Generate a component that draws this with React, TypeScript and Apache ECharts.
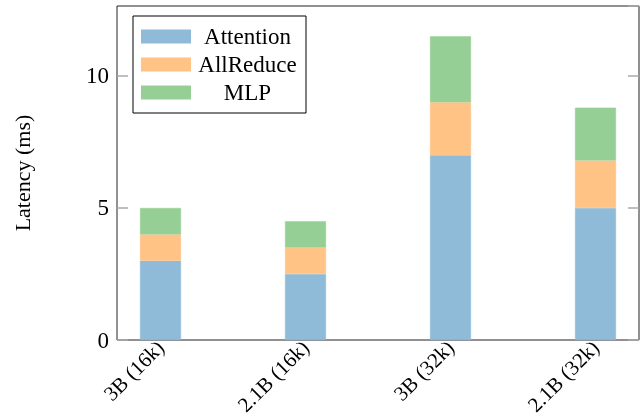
import React, { useEffect, useRef } from "react";
import * as echarts from "echarts";

const categories = ["3B (16k)", "2.1B (16k)", "3B (32k)", "2.1B (32k)"];
const attention = [3, 2.5, 7, 5];
const allReduce = [1, 1, 2, 1.8];
const mlp = [1, 1, 2.5, 2];
const yMax = 12.65;

const FONT = "'Liberation Serif', 'Times New Roman', serif";

export default function App() {
  const ref = useRef<HTMLDivElement>(null);

  useEffect(() => {
    if (!ref.current) return;
    const chart = echarts.init(ref.current, undefined, { renderer: "svg" });

    const bar = (name: string, vals: number[], color: string) => ({
      name,
      type: "bar",
      stack: "total",
      xAxisIndex: 1,
      yAxisIndex: 2,
      barWidth: 41,
      data: vals,
      itemStyle: { color, borderColor: color, borderWidth: 0.5 },
    });

    const sideTicks = {
      show: true,
      inside: true,
      length: 11,
      lineStyle: { color: "#aaa", width: 1.5 },
    };

    chart.setOption({
      animation: false,
      textStyle: { fontFamily: FONT },
      grid: [
        // framed plot area carrying the value axis
        {
          left: 117,
          top: 6,
          right: 2,
          bottom: 77,
          outerBoundsMode: "none",
          show: true,
          borderColor: "#222",
          borderWidth: 1,
          backgroundColor: "transparent",
        },
        // wider band layout for the bars so they sit 145px apart
        {
          left: 88,
          top: 6,
          right: -27,
          bottom: 77,
          outerBoundsMode: "none",
        },
      ],
      legend: {
        orient: "vertical",
        left: 133,
        top: 16,
        padding: [9, 6, 9, 8],
        itemGap: 5,
        itemWidth: 48,
        itemHeight: 12,
        icon: "rect",
        borderColor: "#000",
        borderWidth: 1,
        backgroundColor: "#fff",
        selectedMode: false,
        formatter: (name: string) => `{a|${name}}`,
        textStyle: {
          fontFamily: FONT,
          fontSize: 23,
          color: "#000",
          rich: {
            a: {
              width: 105,
              align: "center",
              lineHeight: 24,
              fontFamily: FONT,
              fontSize: 23,
              color: "#000",
            },
          },
        },
        data: ["Attention", "AllReduce", "MLP"],
      },
      xAxis: [
        { type: "value", gridIndex: 0, show: false, min: 0, max: 1 },
        {
          type: "category",
          gridIndex: 1,
          data: categories,
          axisLine: { show: false },
          axisTick: { show: false },
          splitLine: { show: false },
          axisLabel: {
            rotate: 45,
            margin: 4,
            interval: 0,
            fontFamily: FONT,
            fontSize: 21,
            color: "#000",
          },
        },
      ],
      yAxis: [
        {
          type: "value",
          gridIndex: 0,
          min: 0,
          max: yMax,
          interval: 5,
          name: "Latency (ms)",
          nameLocation: "middle",
          nameRotate: 90,
          nameGap: 84,
          nameTextStyle: { fontFamily: FONT, fontSize: 22, color: "#000" },
          axisLine: { show: false },
          splitLine: { show: false },
          axisTick: sideTicks,
          axisLabel: {
            margin: 8,
            showMaxLabel: false,
            fontFamily: FONT,
            fontSize: 23,
            color: "#000",
          },
        },
        {
          type: "value",
          gridIndex: 0,
          position: "right",
          min: 0,
          max: yMax,
          interval: 5,
          axisLine: { show: false },
          splitLine: { show: false },
          axisLabel: { show: false },
          axisTick: sideTicks,
        },
        { type: "value", gridIndex: 1, min: 0, max: yMax, show: false },
      ],
      series: [
        bar("Attention", attention, "#8FBBD9"),
        bar("AllReduce", allReduce, "#FFC386"),
        bar("MLP", mlp, "#96CF95"),
      ],
    });

    return () => chart.dispose();
  }, []);

  return (
    <div
      ref={ref}
      style={{ position: "fixed", left: 0, top: 0, width: 641, height: 417 }}
    />
  );
}
